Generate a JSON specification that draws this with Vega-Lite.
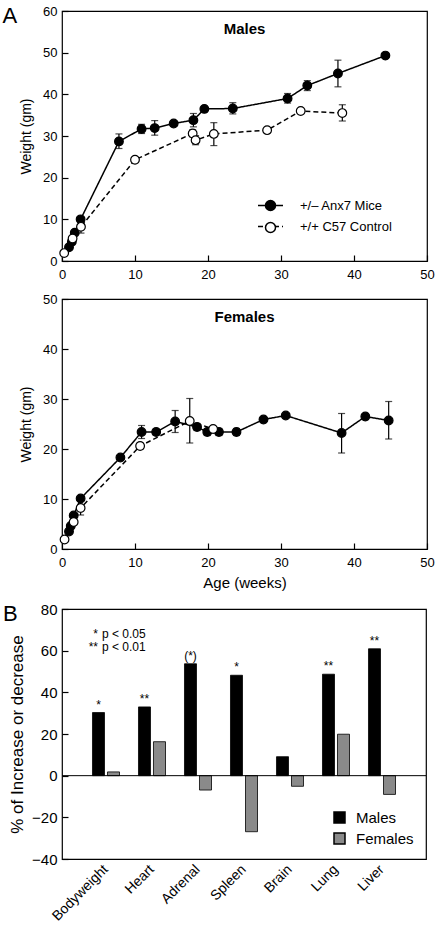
{
  "$schema": "https://vega.github.io/schema/vega-lite/v6.json",
  "background": "white",
  "padding": {"left": 2, "top": 4, "right": 4, "bottom": 2},
  "title": {"text": "A", "anchor": "start", "frame": "bounds", "fontSize": 22, "fontWeight": "normal", "baseline": "alphabetic", "offset": -41, "color": "black"},
  "spacing": 10,
  "resolve": {"scale": {"fill": "independent", "strokeDash": "independent"}, "legend": {"fill": "independent", "strokeDash": "independent"}},
  "datasets": {
    "males": [
      {"group": "+/– Anx7 Mice", "week": 0.96, "wt": 3.3},
      {"group": "+/– Anx7 Mice", "week": 1.35, "wt": 4.6},
      {"group": "+/– Anx7 Mice", "week": 1.75, "wt": 6.8},
      {"group": "+/– Anx7 Mice", "week": 2.55, "wt": 10.0},
      {"group": "+/– Anx7 Mice", "week": 7.8, "wt": 28.7, "lo": 27.0, "hi": 30.5},
      {"group": "+/– Anx7 Mice", "week": 10.9, "wt": 31.7, "lo": 30.6, "hi": 32.8},
      {"group": "+/– Anx7 Mice", "week": 12.7, "wt": 31.9, "lo": 30.2, "hi": 33.7},
      {"group": "+/– Anx7 Mice", "week": 15.3, "wt": 33.0, "lo": 32.3, "hi": 33.7},
      {"group": "+/– Anx7 Mice", "week": 18.0, "wt": 33.8, "lo": 32.2, "hi": 35.4},
      {"group": "+/– Anx7 Mice", "week": 19.5, "wt": 36.5, "lo": 35.8, "hi": 37.1},
      {"group": "+/– Anx7 Mice", "week": 23.4, "wt": 36.6, "lo": 35.3, "hi": 38.0},
      {"group": "+/– Anx7 Mice", "week": 30.9, "wt": 39.0, "lo": 37.9, "hi": 40.2},
      {"group": "+/– Anx7 Mice", "week": 33.6, "wt": 42.1, "lo": 40.9, "hi": 43.3},
      {"group": "+/– Anx7 Mice", "week": 37.8, "wt": 45.0, "lo": 41.8, "hi": 48.2},
      {"group": "+/– Anx7 Mice", "week": 44.3, "wt": 49.3},
      {"group": "+/+ C57 Control", "week": 0.3, "wt": 1.9},
      {"group": "+/+ C57 Control", "week": 1.45, "wt": 5.4},
      {"group": "+/+ C57 Control", "week": 2.6, "wt": 8.2, "lo": 6.7, "hi": 9.7},
      {"group": "+/+ C57 Control", "week": 10.0, "wt": 24.3},
      {"group": "+/+ C57 Control", "week": 17.9, "wt": 30.6, "lo": 29.8, "hi": 31.5},
      {"group": "+/+ C57 Control", "week": 18.3, "wt": 29.0, "lo": 27.9, "hi": 30.1},
      {"group": "+/+ C57 Control", "week": 20.8, "wt": 30.5, "lo": 27.7, "hi": 33.2},
      {"group": "+/+ C57 Control", "week": 28.1, "wt": 31.4},
      {"group": "+/+ C57 Control", "week": 32.7, "wt": 36.0},
      {"group": "+/+ C57 Control", "week": 38.4, "wt": 35.5, "lo": 33.6, "hi": 37.5}
    ],
    "females": [
      {"group": "+/– Anx7 Mice", "week": 0.96, "wt": 3.5},
      {"group": "+/– Anx7 Mice", "week": 1.2, "wt": 4.6},
      {"group": "+/– Anx7 Mice", "week": 1.6, "wt": 6.7},
      {"group": "+/– Anx7 Mice", "week": 2.55, "wt": 10.1},
      {"group": "+/– Anx7 Mice", "week": 8.0, "wt": 18.3},
      {"group": "+/– Anx7 Mice", "week": 10.9, "wt": 23.4, "lo": 22.1, "hi": 24.7},
      {"group": "+/– Anx7 Mice", "week": 12.9, "wt": 23.4, "lo": 22.8, "hi": 24.0},
      {"group": "+/– Anx7 Mice", "week": 15.5, "wt": 25.5, "lo": 23.3, "hi": 27.7},
      {"group": "+/– Anx7 Mice", "week": 18.5, "wt": 24.4, "lo": 23.7, "hi": 25.1},
      {"group": "+/– Anx7 Mice", "week": 19.9, "wt": 23.4, "lo": 22.7, "hi": 24.1},
      {"group": "+/– Anx7 Mice", "week": 21.5, "wt": 23.4, "lo": 22.7, "hi": 24.1},
      {"group": "+/– Anx7 Mice", "week": 23.9, "wt": 23.4, "lo": 22.7, "hi": 24.1},
      {"group": "+/– Anx7 Mice", "week": 27.6, "wt": 25.9, "lo": 25.3, "hi": 26.5},
      {"group": "+/– Anx7 Mice", "week": 30.65, "wt": 26.7},
      {"group": "+/– Anx7 Mice", "week": 38.3, "wt": 23.2, "lo": 19.2, "hi": 27.1},
      {"group": "+/– Anx7 Mice", "week": 41.55, "wt": 26.5, "lo": 25.9, "hi": 27.1},
      {"group": "+/– Anx7 Mice", "week": 44.75, "wt": 25.7, "lo": 22.0, "hi": 29.5},
      {"group": "+/+ C57 Control", "week": 0.35, "wt": 1.9},
      {"group": "+/+ C57 Control", "week": 1.6, "wt": 5.4},
      {"group": "+/+ C57 Control", "week": 2.55, "wt": 8.2, "lo": 6.8, "hi": 9.6},
      {"group": "+/+ C57 Control", "week": 10.7, "wt": 20.6, "lo": 20.0, "hi": 21.2},
      {"group": "+/+ C57 Control", "week": 17.5, "wt": 25.6, "lo": 21.2, "hi": 30.1},
      {"group": "+/+ C57 Control", "week": 20.7, "wt": 24.0}
    ],
    "organs": [
      {"organ": "Bodyweight", "sex": "Males", "pct": 30.3, "sig": "*"},
      {"organ": "Bodyweight", "sex": "Females", "pct": 1.8, "sig": ""},
      {"organ": "Heart", "sex": "Males", "pct": 33.0, "sig": "**"},
      {"organ": "Heart", "sex": "Females", "pct": 16.3, "sig": ""},
      {"organ": "Adrenal", "sex": "Males", "pct": 53.7, "sig": "(*)"},
      {"organ": "Adrenal", "sex": "Females", "pct": -6.9, "sig": ""},
      {"organ": "Spleen", "sex": "Males", "pct": 48.2, "sig": "*"},
      {"organ": "Spleen", "sex": "Females", "pct": -26.9, "sig": ""},
      {"organ": "Brain", "sex": "Males", "pct": 9.1, "sig": ""},
      {"organ": "Brain", "sex": "Females", "pct": -5.1, "sig": ""},
      {"organ": "Lung", "sex": "Males", "pct": 48.7, "sig": "**"},
      {"organ": "Lung", "sex": "Females", "pct": 19.9, "sig": ""},
      {"organ": "Liver", "sex": "Males", "pct": 60.9, "sig": "**"},
      {"organ": "Liver", "sex": "Females", "pct": -9.0, "sig": ""}
    ]
  },
  "vconcat": [
    {
      "width": 365, "height": 250,
      "title": {"text": "Males", "fontSize": 15, "fontWeight": "bold", "anchor": "middle", "baseline": "alphabetic", "offset": -44},
      "data": {"name": "males"},
      "encoding": {
        "x": {"field": "week", "type": "quantitative", "scale": {"domain": [0, 50], "nice": false}, "axis": {"title": null, "values": [0, 10, 20, 30, 40, 50]}}
      },
      "layer": [
        {"mark": {"type": "rule", "color": "black", "strokeWidth": 1.2}, "encoding": {"y": {"field": "lo", "type": "quantitative", "scale": {"domain": [0, 60], "nice": false}, "axis": {"title": "Weight (gm)", "values": [0, 10, 20, 30, 40, 50, 60]}}, "y2": {"field": "hi"}}},
        {"mark": {"type": "tick", "color": "black", "thickness": 1.2, "size": 7, "orient": "horizontal"}, "encoding": {"y": {"field": "lo", "type": "quantitative", "axis": {"title": "Weight (gm)", "values": [0, 10, 20, 30, 40, 50, 60]}}}},
        {"mark": {"type": "tick", "color": "black", "thickness": 1.2, "size": 7, "orient": "horizontal"}, "encoding": {"y": {"field": "hi", "type": "quantitative", "axis": {"title": "Weight (gm)", "values": [0, 10, 20, 30, 40, 50, 60]}}}},
        {"mark": {"type": "line", "color": "black", "strokeWidth": 1.5},
         "encoding": {"y": {"field": "wt", "type": "quantitative", "axis": {"title": "Weight (gm)", "values": [0, 10, 20, 30, 40, 50, 60]}},
           "strokeDash": {"field": "group", "type": "nominal", "scale": {"domain": ["+/– Anx7 Mice", "+/+ C57 Control"], "range": [[1, 0], [5, 3]]},
           "legend": {"title": null, "orient": "none", "legendX": 195, "legendY": 181, "padding": 0, "symbolType": "stroke", "symbolSize": 625, "symbolStrokeWidth": 1.5, "symbolStrokeColor": "black", "labelFontSize": 13, "labelOffset": 16, "rowPadding": -7, "labelColor": "black"}}}},
        {"mark": {"type": "point", "filled": true, "size": 75, "stroke": "black", "strokeWidth": 1.2, "opacity": 1},
         "encoding": {"y": {"field": "wt", "type": "quantitative", "axis": {"title": "Weight (gm)", "values": [0, 10, 20, 30, 40, 50, 60]}},
           "fill": {"field": "group", "type": "nominal", "sort": ["+/– Anx7 Mice", "+/+ C57 Control"], "scale": {"range": ["black", "white"]},
           "legend": {"title": null, "orient": "none", "legendX": 195, "legendY": 181, "padding": 0, "symbolType": "M0.4,0A0.4,0.4 0 1,1 -0.4,0A0.4,0.4 0 1,1 0.4,0Z", "symbolSize": 625, "labelExpr": "''", "labelOffset": 16, "rowPadding": -7, "labelFontSize": 13,
             "encode": {"symbols": {"update": {"stroke": {"value": "black"}, "strokeWidth": {"value": 1.2}, "opacity": {"value": 1}}}}}}}}
      ]
    },
    {
      "width": 365, "height": 250,
      "title": {"text": "Females", "fontSize": 15, "fontWeight": "bold", "anchor": "middle", "baseline": "alphabetic", "offset": -44},
      "data": {"name": "females"},
      "encoding": {
        "x": {"field": "week", "type": "quantitative", "scale": {"domain": [0, 50], "nice": false}, "axis": {"title": "Age (weeks)", "values": [0, 10, 20, 30, 40, 50]}}
      },
      "layer": [
        {"mark": {"type": "rule", "color": "black", "strokeWidth": 1.2}, "encoding": {"y": {"field": "lo", "type": "quantitative", "scale": {"domain": [0, 50], "nice": false}, "axis": {"title": "Weight (gm)", "values": [0, 10, 20, 30, 40, 50]}}, "y2": {"field": "hi"}}},
        {"mark": {"type": "tick", "color": "black", "thickness": 1.2, "size": 7, "orient": "horizontal"}, "encoding": {"y": {"field": "lo", "type": "quantitative", "axis": {"title": "Weight (gm)", "values": [0, 10, 20, 30, 40, 50]}}}},
        {"mark": {"type": "tick", "color": "black", "thickness": 1.2, "size": 7, "orient": "horizontal"}, "encoding": {"y": {"field": "hi", "type": "quantitative", "axis": {"title": "Weight (gm)", "values": [0, 10, 20, 30, 40, 50]}}}},
        {"mark": {"type": "line", "color": "black", "strokeWidth": 1.5},
         "encoding": {"y": {"field": "wt", "type": "quantitative", "axis": {"title": "Weight (gm)", "values": [0, 10, 20, 30, 40, 50]}},
           "strokeDash": {"field": "group", "type": "nominal", "scale": {"domain": ["+/– Anx7 Mice", "+/+ C57 Control"], "range": [[1, 0], [5, 3]]}, "legend": null}}},
        {"mark": {"type": "point", "filled": true, "size": 75, "stroke": "black", "strokeWidth": 1.2, "opacity": 1},
         "encoding": {"y": {"field": "wt", "type": "quantitative", "axis": {"title": "Weight (gm)", "values": [0, 10, 20, 30, 40, 50]}},
           "fill": {"field": "group", "type": "nominal", "scale": {"domain": ["+/– Anx7 Mice", "+/+ C57 Control"], "range": ["black", "white"]}, "legend": null}}}
      ]
    },
    {
      "width": 364, "height": 250,
      "title": {"text": "B", "anchor": "start", "frame": "group", "fontSize": 22, "fontWeight": "normal", "baseline": "alphabetic", "offset": -41, "dx": -59},
      "layer": [
        {"data": {"name": "organs"}, "mark": {"type": "bar", "stroke": "black", "strokeWidth": 0.8},
         "encoding": {
           "x": {"field": "organ", "type": "nominal", "sort": ["Bodyweight", "Heart", "Adrenal", "Spleen", "Brain", "Lung", "Liver"], "scale": {"paddingInner": 0.413, "paddingOuter": 0.663},
                 "axis": {"title": null, "labelAngle": -45, "ticks": false, "labelFontSize": 14, "labelPadding": 8, "labelBaseline": "middle", "labelAlign": "right"}},
           "xOffset": {"field": "sex", "type": "nominal", "sort": ["Males", "Females"], "scale": {"paddingInner": 0.2, "paddingOuter": 0}},
           "y": {"field": "pct", "type": "quantitative", "scale": {"domain": [-40, 80], "nice": false}, "axis": {"title": "% of Increase or decrease", "titleFontSize": 17, "titlePadding": 5, "labelFontSize": 15, "values": [-40, -20, 0, 20, 40, 60, 80]}},
           "fill": {"field": "sex", "type": "nominal", "scale": {"domain": ["Males", "Females"], "range": ["black", "#8a8a8a"]},
             "legend": {"title": null, "orient": "bottom-right", "offset": 12, "symbolType": "square", "symbolSize": 121, "labelFontSize": 15, "labelOffset": 9, "rowPadding": 4, "padding": 0,
               "encode": {"symbols": {"update": {"stroke": {"value": "black"}, "strokeWidth": {"value": 0.8}}}}}}
         }},
        {"data": {"name": "organs"}, "transform": [{"filter": "datum.sex === 'Males'"}],
         "mark": {"type": "text", "fontSize": 12, "baseline": "alphabetic", "dy": -4},
         "encoding": {
           "x": {"field": "organ", "type": "nominal", "sort": ["Bodyweight", "Heart", "Adrenal", "Spleen", "Brain", "Lung", "Liver"]},
           "xOffset": {"field": "sex", "type": "nominal", "sort": ["Males", "Females"]},
           "y": {"field": "pct", "type": "quantitative"},
           "text": {"field": "sig"}
         }},
        {"data": {"values": [{}]}, "mark": {"type": "rule", "color": "black", "strokeWidth": 1}, "encoding": {"y": {"datum": 0}}},
        {"data": {"values": [{}]}, "mark": {"type": "text", "align": "right", "baseline": "alphabetic", "fontSize": 12, "dx": -8, "lineHeight": 13.3},
         "encoding": {"x": {"datum": "Bodyweight"}, "y": {"datum": 66}, "text": {"value": ["*", "**"]}}},
        {"data": {"values": [{}]}, "mark": {"type": "text", "align": "left", "baseline": "alphabetic", "fontSize": 12, "dx": -4, "lineHeight": 13.3},
         "encoding": {"x": {"datum": "Bodyweight"}, "y": {"datum": 66}, "text": {"value": ["p < 0.05", "p < 0.01"]}}}
      ]
    }
  ],
  "config": {
    "font": "Liberation Sans",
    "view": {"stroke": "black", "strokeWidth": 1.2},
    "axis": {"grid": false, "domain": false, "ticks": true, "tickColor": "black", "tickWidth": 1.2, "tickSize": -6, "labelColor": "black", "labelFontSize": 13, "labelFlush": false, "labelOverlap": false, "titleColor": "black", "titleFontWeight": "normal", "titleFontSize": 15},
    "axisX": {"labelPadding": 13, "titlePadding": 6},
    "axisY": {"labelPadding": 11, "titlePadding": 9, "titleFontSize": 14},
    "legend": {"labelColor": "black"},
    "title": {"color": "black"}
  }
}
